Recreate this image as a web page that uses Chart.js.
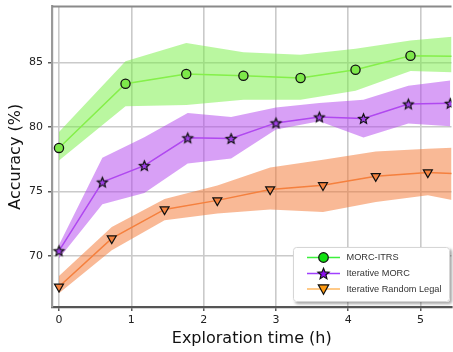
<!DOCTYPE html>
<html><head><meta charset="utf-8">
<script src="https://cdn.jsdelivr.net/npm/chart.js@4.4.0/dist/chart.umd.min.js"></script>
<style>html,body{margin:0;padding:0;overflow:hidden;background:#fff}
#wrap{position:relative;width:458px;height:352px}</style>
</head><body><div id="wrap"><canvas id="c"></canvas></div>
<script>
const xTicks=[0,1,2,3,4,5];
const yTicks=[70,75,80,85];
const seriesNames=['MORC-ITRS','Iterative MORC','Iterative Random Legal'];

const morcX =[0,0.92,1.76,2.55,3.34,4.10,4.86,5.62];
const morcY =[78.37,83.35,84.10,83.97,83.79,84.43,85.52,85.47];
const morcHi=[79.6,85.1,86.5,85.8,85.6,86.06,86.7,87.1];
const morcLo=[77.4,81.6,81.7,82.1,82.1,82.8,84.33,84.2];

const iterX =[0,0.60,1.18,1.78,2.38,3.00,3.60,4.21,4.83,5.41];
const iterY =[70.39,75.72,77.00,79.15,79.10,80.31,80.77,80.65,81.78,81.83];
const iterHi=[70.83,77.6,79.2,81.08,80.77,81.5,81.86,82.1,83.2,83.6];
const iterLo=[69.8,74.0,74.87,77.17,77.55,79.8,80.44,79.18,80.26,80.05];

const randX =[0,0.73,1.46,2.19,2.92,3.65,4.38,5.10,5.83];
const randY =[67.6,71.35,73.6,74.3,75.15,75.47,76.18,76.47,76.3];
const randHi=[68.43,72.24,74.4,75.45,76.85,77.46,78.1,78.3,78.5];
const randLo=[67.1,70.44,72.76,73.28,73.6,73.4,74.18,74.7,73.9];

const pts=(xs,ys)=>xs.map((x,i)=>({x:x,y:ys[i]}));

function starPath(ctx,cx,cy,R,r){
  ctx.beginPath();
  for(let i=0;i<10;i++){
    const a=-Math.PI/2+i*Math.PI/5;
    const rr=i%2===0?R:r;
    const px=cx+rr*Math.cos(a), py=cy+rr*Math.sin(a);
    if(i===0)ctx.moveTo(px,py);else ctx.lineTo(px,py);
  }
  ctx.closePath();
}
function starImg(fill,R){
  const s=Math.ceil(R*2+4);
  const cv=document.createElement('canvas');cv.width=s;cv.height=s;
  const c=cv.getContext('2d');
  starPath(c,s/2,s/2+0.5,R,R*0.45);
  c.fillStyle=fill;c.fill();c.lineWidth=1.2;c.strokeStyle='#111';c.stroke();
  return cv;
}
const plotStar=starImg('#a040e8',5.2);

const band=(xs,ys,col,fill)=>({data:pts(xs,ys),borderWidth:0,pointRadius:0,backgroundColor:col,fill:fill,order:10,tension:0});

const datasets=[
  band(morcX,morcHi,'rgba(117,239,65,0.5)','+1'),
  band(morcX,morcLo,'rgba(117,239,65,0.5)',false),
  band(iterX,iterHi,'rgba(177,65,237,0.5)','+1'),
  band(iterX,iterLo,'rgba(177,65,237,0.5)',false),
  band(randX,randHi,'rgba(243,115,45,0.5)','+1'),
  band(randX,randLo,'rgba(243,115,45,0.5)',false),
  {label:seriesNames[2],data:pts(randX,randY),borderColor:'#f5803e',borderWidth:1.5,fill:false,order:3,
   pointStyle:'triangle',rotation:180,pointRadius:5.2,pointBackgroundColor:'#f4833f',pointBorderColor:'#111',pointBorderWidth:1.2},
  {label:seriesNames[1],data:pts(iterX,iterY),borderColor:'#b048f0',borderWidth:1.5,fill:false,order:2,
   pointStyle:plotStar,pointRadius:5},
  {label:seriesNames[0],data:pts(morcX,morcY),borderColor:'#85f04a',borderWidth:1.5,fill:false,order:1,
   pointStyle:'circle',pointRadius:4.6,pointBackgroundColor:'#7de84a',pointBorderColor:'#111',pointBorderWidth:1.3}
];

const legendItems=[
  {name:seriesNames[0],line:'#3cf03c',fill:'#10e010',shape:'circle'},
  {name:seriesNames[1],line:'#a040ff',fill:'#8a10f0',shape:'star'},
  {name:seriesNames[2],line:'#ffb860',fill:'#ff9a10',shape:'tri'}
];

const framePlugin={id:'frame',
  afterDraw(chart){
    const ctx=chart.ctx,a=chart.chartArea;
    ctx.save();
    ctx.strokeStyle='#8a8a8a';ctx.lineWidth=2;
    ctx.beginPath();ctx.moveTo(a.left,a.top);ctx.lineTo(a.right,a.top);ctx.stroke();
    const bx=293,by=247,bw=157,bh=55;
    ctx.shadowColor='rgba(0,0,0,0.35)';ctx.shadowBlur=3;ctx.shadowOffsetX=2;ctx.shadowOffsetY=2;
    ctx.fillStyle='#fff';
    ctx.beginPath();ctx.roundRect(bx,by,bw,bh,3);ctx.fill();
    ctx.shadowColor='transparent';
    ctx.strokeStyle='#d6d6d6';ctx.lineWidth=1;
    ctx.beginPath();ctx.roundRect(bx+0.5,by+0.5,bw-1,bh-1,3);ctx.stroke();
    const rows=[257.5,273.5,289];
    legendItems.forEach((it,i)=>{
      const y=rows[i];
      ctx.strokeStyle=it.line;ctx.lineWidth=1.6;
      ctx.beginPath();ctx.moveTo(307,y);ctx.lineTo(340,y);ctx.stroke();
      const cx=323.5;
      ctx.fillStyle=it.fill;ctx.strokeStyle='#111';ctx.lineWidth=1.2;
      if(it.shape==='circle'){ctx.beginPath();ctx.arc(cx,y,4.8,0,Math.PI*2);ctx.fill();ctx.stroke();}
      else if(it.shape==='star'){starPath(ctx,cx,y+0.5,5.8,2.6);ctx.fill();ctx.stroke();}
      else{ctx.beginPath();ctx.moveTo(cx-5.2,y-4.2);ctx.lineTo(cx+5.2,y-4.2);ctx.lineTo(cx,y+5.2);ctx.closePath();ctx.fill();ctx.stroke();}
      ctx.fillStyle='#333';ctx.font='9.2px "Liberation Sans", Arial, sans-serif';
      ctx.textBaseline='middle';ctx.textAlign='left';
      ctx.fillText(it.name,346.5,y);
    });
    ctx.restore();
  }
};

new Chart(document.getElementById('c'),{
  type:'line',
  data:{datasets:datasets},
  options:{
    responsive:true,maintainAspectRatio:false,animation:false,devicePixelRatio:1,
    events:[],
    layout:{padding:{left:0,right:0,top:6,bottom:0}},
    plugins:{legend:{display:false},tooltip:{enabled:false}},
    scales:{
      x:{type:'linear',min:-0.0964,max:5.427,
        afterBuildTicks:s=>{s.ticks=xTicks.map(v=>({value:v}));},
        afterFit:s=>{s.height=45;s.paddingLeft=0;s.paddingRight=0;},
        grid:{color:'#cacaca',lineWidth:1.6,tickLength:4,tickColor:'#333',tickWidth:1.2},
        border:{color:'#555',width:2.2},
        ticks:{padding:3,color:'#222',font:{family:'"DejaVu Sans"',size:11},callback:v=>String(v)},
        title:{display:true,text:'Exploration time (h)',color:'#111',font:{family:'"DejaVu Sans"',size:16},padding:{top:0,bottom:4}}
      },
      y:{type:'linear',min:66.03,max:89.34,
        afterBuildTicks:s=>{s.ticks=yTicks.map(v=>({value:v}));},
        afterFit:s=>{s.width=52;s.paddingTop=0;s.paddingBottom=0;},
        grid:{color:'#cacaca',lineWidth:1.6,tickLength:4,tickColor:'#333',tickWidth:1.2},
        border:{color:'#9a9a9a',width:2.2},
        ticks:{padding:5,color:'#222',font:{family:'"DejaVu Sans"',size:11},callback:v=>String(v)},
        title:{display:true,text:'Accuracy (%)',color:'#111',font:{family:'"DejaVu Sans"',size:16},padding:{top:6,bottom:0}}
      }
    }
  },
  plugins:[framePlugin]
});
</script>
</body></html>
